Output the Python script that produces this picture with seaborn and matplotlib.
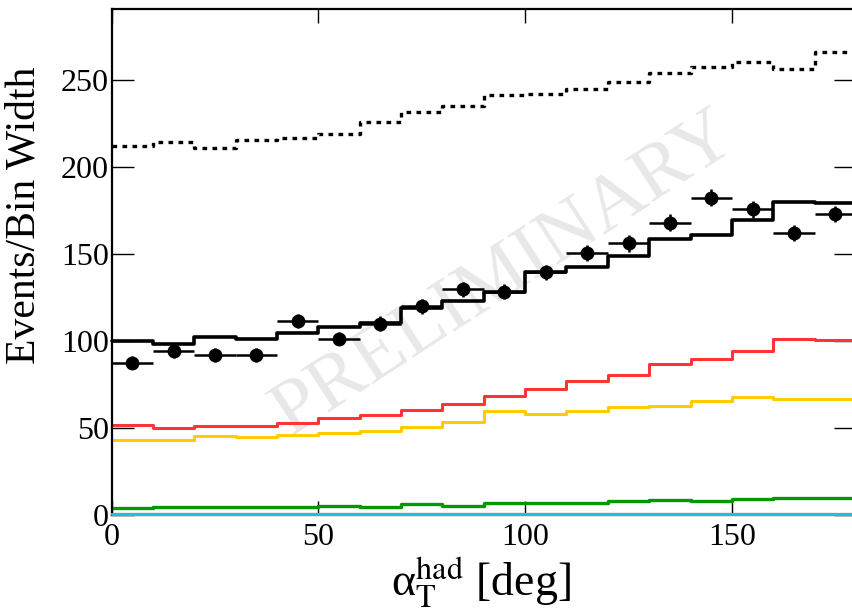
import numpy as np
import pandas as pd
import matplotlib
matplotlib.use("Agg")
import matplotlib.pyplot as plt
import seaborn as sns

# ---------------- data ----------------
bin_edges = [0, 10, 20, 30, 40, 50, 60, 70, 80, 90, 100, 110, 120, 130, 140, 150, 160, 170, 180]
bin_centers = [5, 15, 25, 35, 45, 55, 65, 75, 85, 95, 105, 115, 125, 135, 145, 155, 165, 175]

dotted_total = [211.9, 214.2, 210.7, 215.6, 216.5, 218.8, 225.7, 231.5, 235.0, 241.3,
                242.1, 245.2, 248.8, 254.3, 257.8, 260.4, 256.6, 266.4]
mc_total = [99.7, 98.4, 102.2, 101.3, 104.2, 108.0, 110.3, 118.9, 122.8, 128.2,
            139.5, 142.6, 148.8, 158.4, 160.9, 169.6, 179.8, 179.2]
red_comp = [51.6, 49.9, 51.2, 51.2, 52.8, 55.7, 57.0, 59.9, 63.5, 68.1,
            72.4, 76.6, 80.5, 86.8, 89.7, 93.9, 101.2, 100.3]
yellow_comp = [43.0, 43.0, 45.0, 44.5, 45.8, 47.0, 47.9, 50.2, 53.0, 59.3,
               58.0, 59.5, 61.6, 62.6, 65.1, 67.6, 66.6, 66.4]
green_comp = [3.9, 4.1, 4.3, 4.3, 4.3, 5.0, 4.6, 6.2, 5.0, 6.4,
              6.4, 6.8, 7.5, 8.1, 7.5, 8.9, 9.5, 9.6]
blue_comp = [0.2, 0.2, 0.3, 0.3, 0.3, 0.3, 0.3, 0.3, 0.3, 0.3,
             0.3, 0.3, 0.3, 0.3, 0.3, 0.3, 0.3, 0.3]
cyan_comp = [0.4, 0.4, 0.4, 0.4, 0.4, 0.4, 0.4, 0.4, 0.4, 0.4,
             0.4, 0.4, 0.4, 0.4, 0.4, 0.4, 0.4, 0.4]

data_y = [87.4, 93.9, 91.6, 91.6, 111.3, 101.3, 109.9, 119.9, 129.6, 128.2,
          139.4, 150.7, 156.1, 168.0, 182.4, 175.7, 162.2, 172.9]
data_yerr = [3.9, 4.0, 4.0, 4.0, 4.2, 4.0, 4.1, 4.2, 4.3, 4.3,
             4.4, 4.6, 4.7, 4.8, 5.0, 4.9, 4.7, 4.8]

x_ticks = [0, 50, 100, 150]
y_ticks = [0, 50, 100, 150, 200, 250]

# ---------------- style ----------------
sns.set_theme(style="ticks")
plt.rcParams['font.family'] = ['Liberation Serif', 'DejaVu Serif']
plt.rcParams['mathtext.fontset'] = 'stix'

W, H = 852, 613
fig = plt.figure(figsize=(W / 100, H / 100), dpi=100)
left_px, right_px, top_px, bot_px = 111.5, 856.0, 9.0, 514.5
ax = fig.add_axes([left_px / W, (H - bot_px) / H, (right_px - left_px) / W, (bot_px - top_px) / H])
ax.set_facecolor('white')

# watermark
ax.text(0.528, 0.475, 'PRELIMINARY', transform=ax.transAxes, rotation=33,
        ha='center', va='center', fontsize=57, color='#e8e8e8', zorder=0)

def step(vals, color, lw, ls='-', z=2):
    df = pd.DataFrame({'x': bin_centers, 'w': vals})
    sns.histplot(data=df, x='x', weights='w', bins=bin_edges, element='step',
                 fill=False, color=color, linewidth=lw, linestyle=ls, ax=ax, zorder=z,
                 clip_on=False)

step(dotted_total, 'black', 2.4, ls=(0, (1.4, 1.6)))
step(mc_total, 'black', 2.6)
step(red_comp, '#ff3535', 2.2)
step(yellow_comp, '#ffcc00', 2.2)
step(green_comp, '#009a00', 2.4)
step(blue_comp, '#6a6ad8', 1.6, z=8)
step(cyan_comp, '#1cc3d6', 2.2, z=9)

ax.errorbar(bin_centers, data_y, xerr=5, yerr=data_yerr, fmt='o', color='black',
            ms=9, elinewidth=1.8, capsize=0, zorder=6)

ax.set_xlim(0, 180)
ax.set_ylim(0, 291)
ax.set_xticks(x_ticks)
ax.set_yticks(y_ticks)
ax.set_xlabel('')
ax.set_ylabel('')
ax.tick_params(axis='y', direction='in', length=16, width=1, left=True, right=True,
               labelsize=23, pad=2, colors='black')
ax.tick_params(axis='x', direction='in', length=10, width=1, top=True, bottom=True,
               labelsize=23, pad=6, colors='black')
for s in ax.spines.values():
    s.set_visible(True)
    s.set_linewidth(1.6)
    s.set_color('black')
    s.set_zorder(7)

fig.text(24 / W, 1 - 215 / H, 'Events/Bin Width', rotation=90, ha='center', va='center',
         fontsize=30, color='black')
fig.text(481 / W, 1 - 583 / H, 'α$_{\\mathrm{T}}^{\\mathrm{had}}$ [deg]', ha='center',
         va='center', fontsize=33, color='black')

fig.savefig('out.png', dpi=100, facecolor='white')
